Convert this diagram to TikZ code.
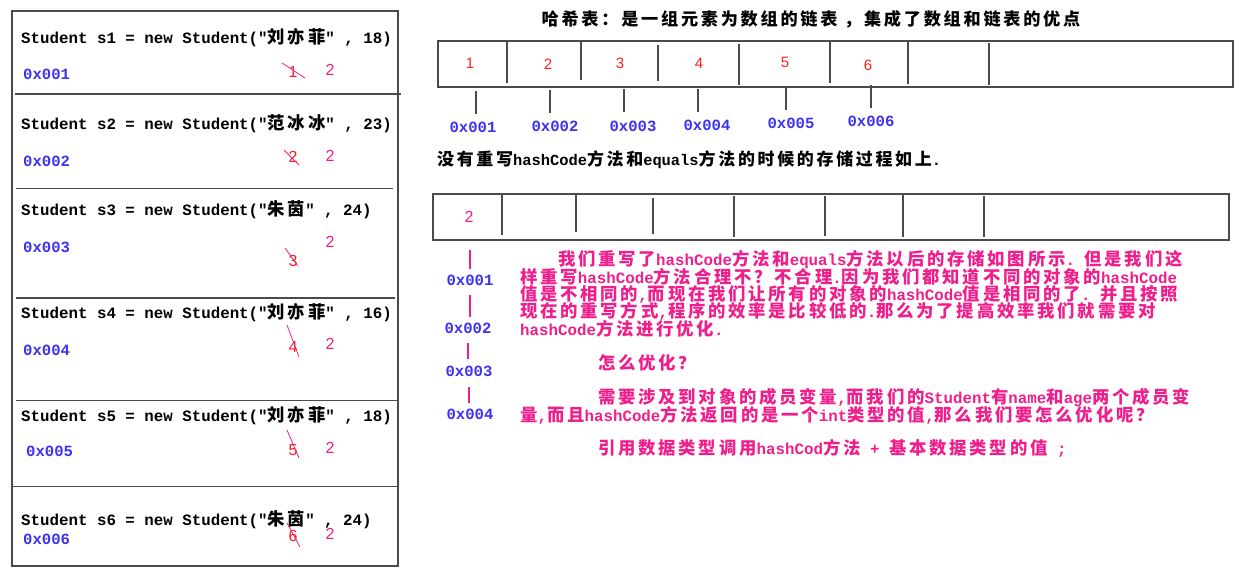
\documentclass[tikz,border=0pt]{standalone}
\usepackage{fontspec}
\setmonofont{Liberation Mono}
\setsansfont{Liberation Sans}
\newfontfamily\zhfont[Scale=1.1,LetterSpace=16]{Noto Sans CJK SC}
\newcommand\zh[1]{{\zhfont #1}}
\newcommand\stu[3]{Student s#1 = new Student("\zh{#2}" , #3)}
\definecolor{hotpink}{RGB}{240,30,140}
\definecolor{addrblue}{RGB}{60,50,240}
\definecolor{numred}{RGB}{255,30,30}
\definecolor{framegray}{RGB}{75,75,75}
\begin{document}
\begin{tikzpicture}[x=1pt,y=-1pt,
  every node/.style={inner sep=0pt},
  frame/.style={draw=framegray,line width=1.3pt},
  code/.style={anchor=west,font=\ttfamily\bfseries\fontsize{15.8}{18}\selectfont},
  note/.style={code,text=hotpink},
  addr/.style={font=\ttfamily\bfseries\fontsize{15.6}{18}\selectfont,text=addrblue},
  oldnum/.style={font=\sffamily\fontsize{16}{18}\selectfont,text=numred},
  newnum/.style={font=\sffamily\fontsize{16}{18}\selectfont,text=hotpink},
  strike/.style={draw=hotpink,line width=0.8pt},
  pinkline/.style={draw=hotpink,line width=1.2pt}]
  \useasboundingbox (0,0) rectangle (1240,573);
  % left: the six objects
  \draw[frame] (12,11) rectangle (398,566);
  \foreach \y/\a/\b in {94/15/401,188.5/16/393,298/16/395,400.7/16/399,486.7/13/397}
    \draw[frame] (\a,\y) -- (\b,\y);
  \node[code] (s1) at (21,38) {\stu{1}{刘亦菲}{18}};
  \node[code] (s2) at (21,124) {\stu{2}{范冰冰}{23}};
  \node[code] (s3) at (21,210) {\stu{3}{朱茵}{24}};
  \node[code] (s4) at (21,313) {\stu{4}{刘亦菲}{16}};
  \node[code] (s5) at (21,416) {\stu{5}{刘亦菲}{18}};
  \node[code] (s6) at (21,520) {\stu{6}{朱茵}{24}};
  \foreach \n/\x/\y in {1/23/74,2/23/161,3/23/247,4/23/350,5/26/451,6/23/539}
    \node[addr,anchor=west] (m\n) at (\x,\y) {0x00\n};
  \foreach \n/\y/\a/\b/\c/\d in {1/72/-11/-9/12/6,2/157/-9/-7/6/8,3/261/-8/-13/5/5,
      4/347/-6/-22/6/10,5/450/-6/-20/6/8,6/536/-6/-13/7/11}{
    \node[oldnum] (o\n) at (293,\y) {\n};
    \draw[strike] ([shift={(\a,\b)}]o\n.center) -- ([shift={(\c,\d)}]o\n.center);
  }
  \foreach \n/\y in {1/70,2/156,3/242,4/344,5/448,6/534}
    \node[newnum] (n\n) at (330,\y) {2};
  % right: the hash table
  \node[font=\bfseries\fontsize{15.6}{18}\selectfont] (ttl) at (811,19)
    {\zh{哈希表：是一组元素为数组的链表 ，集成了数组和链表的优点}};
  \draw[frame] (438,41) rectangle (1233,87);
  \foreach \x/\a/\b in {507/41/83,581/41/80,658/45/81,739/44/85,830/41/83,908/41/84,989/43/85}
    \draw[frame] (\x,\a) -- (\x,\b);
  \foreach \n/\x/\y in {1/470/63,2/548/64,3/620/63,4/699/63,5/785/62,6/868/65}
    \node[oldnum,font=\sffamily\fontsize{15}{18}\selectfont] (b\n) at (\x,\y) {\n};
  \foreach \n/\x/\y/\dx in {1/473/127/3,2/555/126/-5,3/633/126/-9,4/707/125/-9,5/791/123/-5,6/871/121/0}{
    \node[addr] (h\n) at (\x,\y) {0x00\n};
    \draw[frame] (h\n.north) ++(\dx,-8) -- ++(0,-23);
  }
  \node[code,font=\ttfamily\bfseries\fontsize{15.4}{18}\selectfont] (sub) at (437,160)
    {\zh{没有重写}hashCode\zh{方法和}equals\zh{方法的时候的存储过程如上}.};
  \draw[frame] (433,194) rectangle (1229,240);
  \foreach \x/\a/\b in {502/194/235,576/194/232,653/198/234,734/196/237,825/196/236,903/194/237,984/196/237}
    \draw[frame] (\x,\a) -- (\x,\b);
  \node[newnum] (c1) at (469,217) {2};
  \foreach \n/\x/\y in {1/470/280,2/468/328,3/469/371,4/470/414}
    \node[addr] (v\n) at (\x,\y) {0x00\n};
  \draw[pinkline] (v1.north) ++(0,-6) -- ++(0,-19);
  \foreach \a/\b in {1/2,2/3,3/4}
    \draw[pinkline,shorten <=10pt,shorten >=6pt] (v\a.south) -- (v\a.south |- v\b.north);
  \node[note] (p1) at (558,260) {\zh{我们重写了}hashCode\zh{方法和}equals\zh{方法以后的存储如图所示}. \zh{但是我们这}};
  \node[note] (p2) at (520,277) {\zh{样重写}hashCode\zh{方法合理不？不合理}.\zh{因为我们都知道不同的对象的}hashCode};
  \node[note] (p3) at (520,294) {\zh{值是不相同的},\zh{而现在我们让所有的对象的}hashCode\zh{值是相同的了}. \zh{并且按照}};
  \node[note] (p4) at (520,311) {\zh{现在的重写方式},\zh{程序的效率是比较低的}.\zh{那么为了提高效率我们就需要对}};
  \node[note] (p5) at (520,329) {hashCode\zh{方法进行优化}.};
  \node[note] (p6) at (598,363) {\zh{怎么优化？}};
  \node[note] (p7) at (598,398) {\zh{需要涉及到对象的成员变量},\zh{而我们的}Student\zh{有}name\zh{和}age\zh{两个成员变}};
  \node[note] (p8) at (520,415) {\zh{量},\zh{而且}hashCode\zh{方法返回的是一个}int\zh{类型的值},\zh{那么我们要怎么优化呢？}};
  \node[note] (p9) at (598,448) {\zh{引用数据类型调用}hashCod\zh{方法} + \zh{基本数据类型的值} ;};
\end{tikzpicture}
\end{document}
